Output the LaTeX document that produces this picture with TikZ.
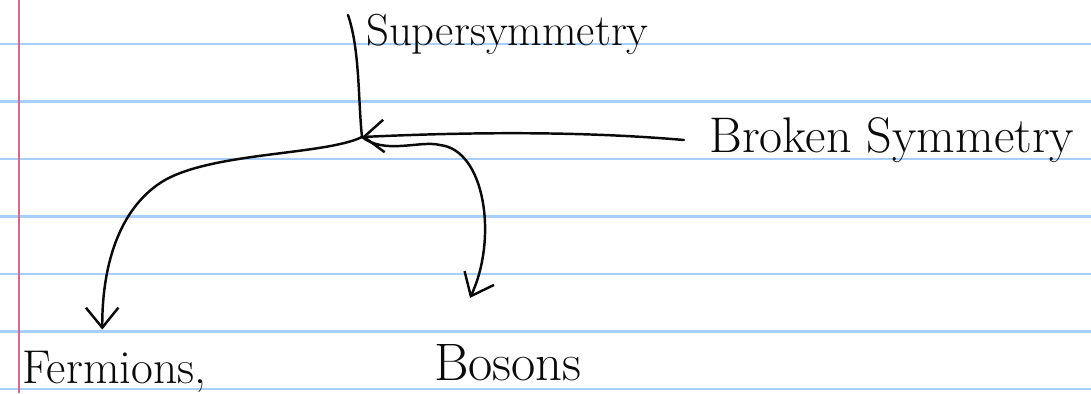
\documentclass[tikz,border=0pt]{standalone}
\usepackage{xcolor}
\usepackage{tikz}
\usetikzlibrary{arrows.meta, positioning}
\definecolor{ruleblue}{RGB}{168, 206, 250}
\definecolor{marginred}{RGB}{205, 110, 140}
\definecolor{inkblack}{RGB}{10, 10, 10}

\begin{document}
\begin{tikzpicture}[
    x=0.02cm, y=-0.02cm,
    handtext/.style={inkblack, inner sep=1pt, font=\fontsize{#1}{#1}\selectfont},
    handtext/.default=26,
    arrow/.style={-{Straight Barb[length=4mm, width=6.5mm]}, line width=1.4pt, inkblack, line cap=round, line join=round},
    rule/.style={ruleblue, line width=1.2pt},
    margin/.style={marginred, line width=1.2pt}
]

% Paper
\useasboundingbox (0,0) rectangle (1091,393);
\fill[white] (0,0) rectangle (1091,393);
\foreach \i in {0,...,6}
    \draw[rule] (0,{44+57.5*\i}) -- (1091,{44+57.5*\i});
\draw[margin] (19,0) -- (19,393);

% Labels
\node[handtext=25.5, anchor=base west] (sup) at (364,45) {Supersymmetry};
\node[handtext=28.5, anchor=west, inner xsep=0.5cm] (broken) at (684,140) {Broken Symmetry};
\node[handtext=27, anchor=base west] (ferm) at (20,383) {Fermions,};
\node[handtext=30, anchor=base west] (bos) at (432,380) {Bosons};

% Branch point
\coordinate (stemtop) at (348,15);
\coordinate (junc) at (362,137);

% Arrows
\draw[arrow, -] (stemtop) .. controls (360,50) and (358,100) .. (junc);
\draw[arrow] (broken.west) .. controls (580,131) and (470,132) .. (junc);
\draw[arrow] (junc) .. controls (325,155) and (215,152) .. (165,180)
    .. controls (122,205) and (102,260) .. ([xshift=-0.24cm, yshift=0.38cm]ferm.north);
\draw[arrow] (junc) .. controls (385,155) and (420,140) .. (440,145)
    .. controls (485,150) and (498,238) .. ([xshift=0.76cm, yshift=0.88cm]bos.north west);

\end{tikzpicture}
\end{document}
